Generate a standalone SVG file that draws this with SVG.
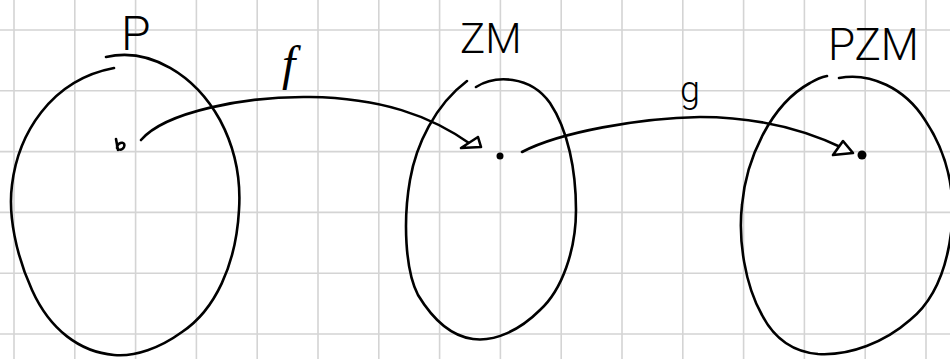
<svg xmlns="http://www.w3.org/2000/svg" width="950" height="359" viewBox="0 0 950 359">
<style>
.grid{stroke:#d4d4d4;stroke-width:1.6;fill:none}
.ink{stroke:#000;stroke-width:2.6;fill:none;stroke-linecap:round;stroke-linejoin:round}
.head{stroke:#000;stroke-width:2.6;fill:#fff;stroke-linejoin:round}
.lbl{font-family:Roboto,"Liberation Sans",Arial,sans-serif;font-weight:300;fill:#000}
.fn{font-family:"Liberation Serif","Times New Roman",serif;font-style:italic;fill:#000}
.dot{fill:#000}
</style>
<rect width="950" height="359" fill="#fff"/>
<g id="grid" class="grid">
<path d="M14,0V359M74.8,0V359M135.6,0V359M196.4,0V359M257.2,0V359M318,0V359M378.8,0V359M439.6,0V359M500.4,0V359M561.2,0V359M622,0V359M682.8,0V359M743.6,0V359M804.4,0V359M865.2,0V359M926,0V359"/>
<path d="M0,30H950M0,90.8H950M0,151.6H950M0,212.4H950M0,273.2H950M0,334H950"/>
</g>
<g id="node-P">
<path class="ink" d="M106,57 C150,47 195,75 220,120 C236,150 241,180 239,210 C236,265 215,310 182,332 C160,348 135,357 114,355 C80,352 50,330 32,290 C16,255 8,215 12,185 C18,135 50,80 114,68"/>
<text class="lbl" x="121" y="50" font-size="48">P</text>
<path class="ink" stroke-width="2.4" d="M116,139 L118,150 M117,146 C120,141 126,142 124,147 C122,151 118,150 117,148"/>
</g>
<g id="node-ZM">
<path class="ink" d="M476,87 C495,75 530,75 550,103 C568,130 576,170 576,210 C576,250 562,290 540,310 C520,330 495,342 473,339 C450,336 432,318 418,295 C405,270 403,220 410,180 C416,145 435,105 467,81"/>
<text class="lbl" x="460" y="53" font-size="42">ZM</text>
<circle class="dot" cx="500" cy="156" r="3.5"/>
</g>
<g id="node-PZM">
<path class="ink" d="M839,78 C870,72 905,88 925,120 C945,150 955,185 952,225 C948,265 935,300 910,320 C885,342 850,356 818,354 C795,352 775,340 762,315 C745,285 738,240 742,205 C746,160 770,105 810,83 C815,80 822,77 827,76"/>
<text class="lbl" x="828" y="60" font-size="44">PZM</text>
<circle class="dot" cx="862" cy="155" r="4.5"/>
</g>
<g id="connectors">
<path class="ink" d="M141,140 C165,112 245,96 310,97 C380,98 430,115 472,145"/>
<polygon class="head" points="461,148 481,147 478,137"/>
<text class="fn" x="282" y="80" font-size="48">f</text>
<path class="ink" d="M522,152 C560,132 640,118 700,117 C760,117 810,132 845,149"/>
<polygon class="head" points="833,155 843,141 853,153"/>
<text class="lbl" x="680" y="102" font-size="36">g</text>
</g>
</svg>
